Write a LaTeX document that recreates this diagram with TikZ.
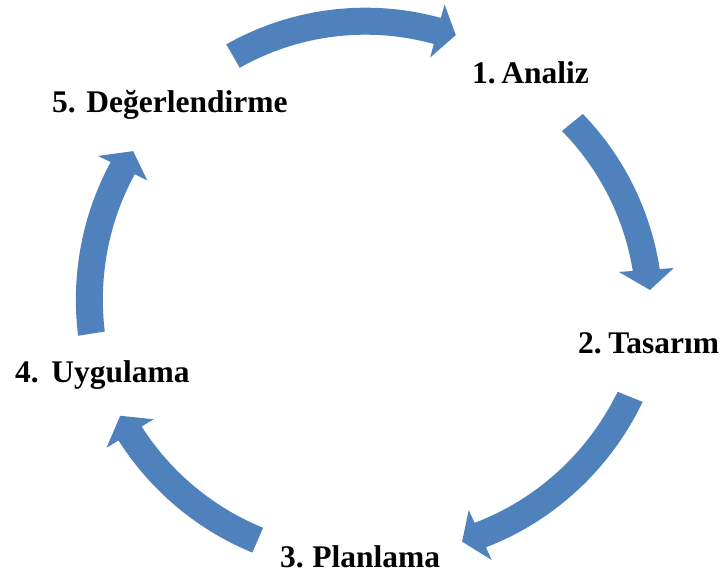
\documentclass[tikz,border=0pt]{standalone}
\usepackage{fontspec}
\setmainfont{Liberation Serif}
\definecolor{cycleblue}{HTML}{4F81BD}
\tikzset{
  stage/.style={font=\fontsize{31.5}{36}\selectfont\bfseries, inner sep=0pt, anchor=base west},
  bent/.style={fill=cycleblue, draw=none},
}
% #1 tail angle, #2 tail radius, #3 head-base angle, #4 head-base radius,
% #5 tip angle, #6 tip radius (shaft half-width 13.5, head half-width 27.5)
\newcommand{\bentarrow}[6]{%
  \fill[bent]
    plot[domain=#1:#3, samples=60]
      ({\x}:{#2+(#4-(#2))*(\x-(#1))/((#3)-(#1))+13.5})
    -- ({#3}:{#4+27.5}) -- ({#5}:{#6}) -- ({#3}:{#4-27.5})
    -- plot[domain=#3:#1, samples=60]
      ({\x}:{#2+(#4-(#2))*(\x-(#1))/((#3)-(#1))-13.5})
    -- cycle;}
\begin{document}
\begin{tikzpicture}[x=1pt, y=1pt]
  \useasboundingbox (0,0) rectangle (723,582);
  \begin{scope}[shift={(367,292)}]
    \bentarrow{119.8}{269.6}{74.8}{268.4}{70.8}{270}
    \bentarrow{39.2}{265}{4.1}{280}{0}{283}
    \bentarrow{-22.1}{284}{-65.2}{270}{-69.3}{269}
    \bentarrow{-113.6}{273}{-148.8}{277}{-153}{277}
    \bentarrow{189}{279}{153.5}{273}{149.3}{272}
  \end{scope}
  \node[stage] (analiz) at (472,498) {1.\hspace{-5pt} Analiz};
  \node[stage] (tasarim) at (578,229) {2.\hspace{-4pt} Tasarım};
  \node[stage] (planlama) at (280,15) {3.\hspace{-2pt} Planlama};
  \node[stage] (uygulama) at (15,200) {4.\hspace{2pt} Uygulama};
  \node[stage] (degerlendirme) at (52,469) {5. Değerlendirme};
\end{tikzpicture}
\end{document}
